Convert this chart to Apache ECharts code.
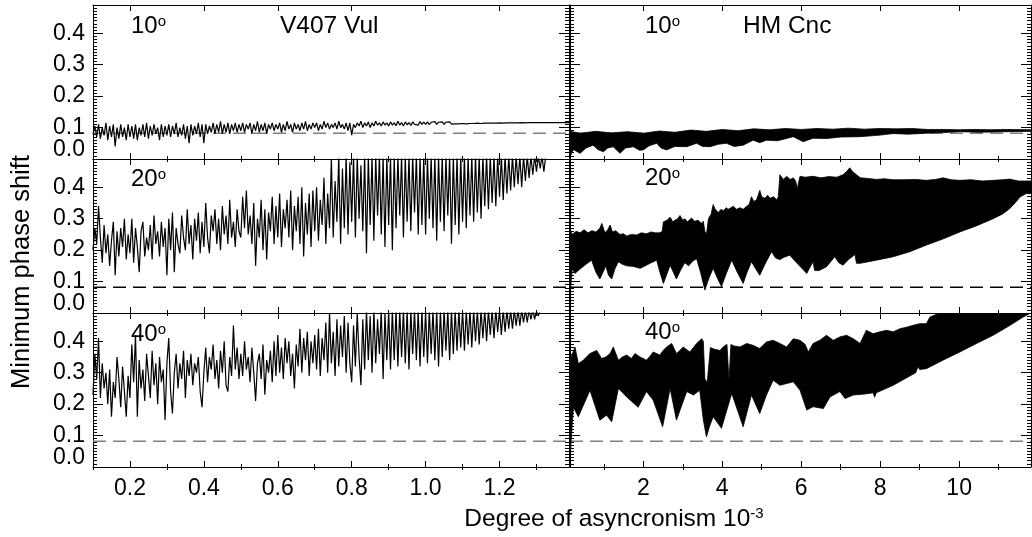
<!DOCTYPE html>
<html><head><meta charset="utf-8">
<script src="https://cdn.jsdelivr.net/npm/echarts@6/dist/echarts.min.js"></script>
<style>html,body{margin:0;padding:0;background:#fff}#c{width:1032px;height:537px}</style>
</head><body><div id="c"></div>
<script>
// ---------------- DATA ----------------
const vulX = [
 0.1,0.105,0.11,0.115,0.12,0.125,0.13,0.135,0.14,0.145,0.15,0.155,0.16,0.165,0.17,0.175,0.18,0.185,0.19,0.195,
 0.2,0.205,0.21,0.215,0.22,0.225,0.23,0.235,0.24,0.245,0.25,0.255,0.26,0.265,0.27,0.275,0.28,0.285,0.29,0.295,
 0.3,0.305,0.31,0.315,0.32,0.325,0.33,0.335,0.34,0.345,0.35,0.355,0.36,0.365,0.37,0.375,0.38,0.385,0.39,0.395,
 0.4,0.405,0.41,0.415,0.42,0.425,0.43,0.435,0.44,0.445,0.45,0.455,0.46,0.465,0.47,0.475,0.48,0.485,0.49,0.495,
 0.5,0.505,0.51,0.515,0.52,0.525,0.53,0.535,0.54,0.545,0.55,0.555,0.56,0.565,0.57,0.575,0.58,0.585,0.59,0.595,
 0.6,0.605,0.61,0.615,0.62,0.625,0.63,0.635,0.64,0.645,0.65,0.655,0.66,0.665,0.67,0.675,0.68,0.685,0.69,0.695,
 0.7,0.705,0.71,0.715,0.72,0.725,0.73,0.735,0.74,0.745,0.75,0.755,0.76,0.765,0.77,0.775,0.78,0.785,0.79,0.795,
 0.8,0.805,0.81,0.815,0.82,0.825,0.83,0.835,0.84,0.845,0.85,0.855,0.86,0.865,0.87,0.875,0.88,0.885,0.89,0.895,
 0.9,0.905,0.91,0.915,0.92,0.925,0.93,0.935,0.94,0.945,0.95,0.955,0.96,0.965,0.97,0.975,0.98,0.985,0.99,0.995,
 1.0,1.005,1.01,1.015,1.02,1.025,1.03,1.035,1.04,1.045,1.05,1.055,1.06,1.065,1.07,1.075,1.08,1.085,1.09,1.095,
 1.1,1.105,1.11,1.115,1.12,1.125,1.13,1.135,1.14,1.145,1.15,1.155,1.16,1.165,1.17,1.175,1.18,1.185,1.19,1.195,
 1.2,1.205,1.21,1.215,1.22,1.225,1.23,1.235,1.24,1.245,1.25,1.255,1.26,1.265,1.27,1.275,1.28,1.285,1.29,1.295,
 1.3,1.305,1.31,1.315,1.32,1.325,1.33,1.335,1.34,1.345,1.35,1.355,1.36,1.365,1.37,1.375,1.38,1.385,1.39];

const vul10 = [
 0.08,0.105,0.07,0.11,0.065,0.10,0.075,0.115,0.06,0.105,0.07,0.11,0.04,0.10,0.065,0.11,0.07,0.10,0.06,0.11,
 0.07,0.105,0.065,0.11,0.06,0.10,0.075,0.11,0.07,0.115,0.065,0.105,0.075,0.11,0.08,0.10,0.06,0.11,0.07,0.105,
 0.075,0.11,0.07,0.105,0.08,0.115,0.07,0.10,0.075,0.11,0.065,0.105,0.05,0.11,0.075,0.105,0.08,0.115,0.07,0.11,
 0.05,0.11,0.08,0.105,0.085,0.115,0.08,0.11,0.085,0.12,0.08,0.11,0.085,0.115,0.08,0.11,0.09,0.115,0.085,0.11,
 0.09,0.115,0.085,0.11,0.095,0.115,0.08,0.11,0.09,0.12,0.085,0.11,0.09,0.115,0.08,0.11,0.095,0.115,0.09,0.11,
 0.095,0.115,0.085,0.11,0.09,0.12,0.095,0.11,0.085,0.115,0.095,0.11,0.09,0.115,0.095,0.12,0.09,0.11,0.095,0.115,
 0.10,0.115,0.09,0.11,0.095,0.12,0.10,0.115,0.095,0.11,0.10,0.115,0.095,0.12,0.10,0.11,0.095,0.115,0.09,0.115,
 0.076,0.11,0.10,0.115,0.105,0.12,0.10,0.115,0.105,0.118,0.10,0.115,0.105,0.12,0.108,0.115,0.105,0.118,0.108,0.115,
 0.105,0.118,0.108,0.115,0.106,0.12,0.108,0.116,0.105,0.118,0.109,0.116,0.107,0.118,0.11,0.116,0.108,0.119,0.11,0.117,
 0.11,0.118,0.109,0.117,0.111,0.119,0.11,0.117,0.112,0.118,0.11,0.117,0.112,0.118,0.111,0.117,0.112,0.118,0.112,0.117,
 0.113,0.118,0.112,0.117,0.113,0.118,0.113,0.117,0.114,0.118,0.113,0.117,0.114,0.118,0.114,0.117,0.114,0.118,0.114,0.117,
 0.115,0.117,0.114,0.118,0.115,0.117,0.115,0.118,0.115,0.117,0.115,0.117,0.116,0.118,0.115,0.117,0.116,0.117,0.116,0.117,
 0.116,0.117,0.116,0.118,0.116,0.117,0.116,0.117,0.116,0.118,0.116,0.117,0.116,0.117,0.116,0.117,0.116,0.117,0.116];

const vul20 = [
 0.20,0.27,0.22,0.34,0.24,0.16,0.28,0.19,0.25,0.15,0.23,0.29,0.12,0.26,0.18,0.27,0.21,0.30,0.17,0.25,
 0.19,0.30,0.16,0.27,0.21,0.13,0.26,0.29,0.18,0.24,0.20,0.28,0.17,0.31,0.22,0.26,0.18,0.29,0.21,0.27,
 0.12,0.30,0.20,0.32,0.13,0.27,0.22,0.19,0.31,0.24,0.20,0.33,0.22,0.28,0.17,0.30,0.23,0.32,0.19,0.29,
 0.21,0.35,0.24,0.19,0.31,0.26,0.33,0.22,0.30,0.20,0.34,0.25,0.31,0.22,0.36,0.24,0.29,0.21,0.33,0.26,
 0.24,0.37,0.27,0.39,0.25,0.31,0.22,0.35,0.15,0.30,0.24,0.36,0.20,0.33,0.17,0.32,0.26,0.37,0.22,0.34,
 0.24,0.38,0.21,0.33,0.27,0.36,0.24,0.39,0.20,0.34,0.26,0.37,0.22,0.40,0.18,0.35,0.25,0.38,0.21,0.39,
 0.26,0.40,0.23,0.36,0.28,0.43,0.22,0.38,0.27,0.49,0.24,0.42,0.29,0.50,0.22,0.46,0.27,0.50,0.25,0.48,
 0.29,0.50,0.24,0.50,0.30,0.47,0.26,0.50,0.19,0.50,0.28,0.50,0.23,0.50,0.31,0.50,0.25,0.50,0.21,0.50,
 0.28,0.50,0.20,0.50,0.27,0.50,0.31,0.50,0.24,0.50,0.29,0.50,0.26,0.50,0.32,0.50,0.25,0.50,0.28,0.50,
 0.25,0.50,0.30,0.50,0.27,0.50,0.23,0.50,0.29,0.50,0.26,0.50,0.31,0.50,0.22,0.50,0.28,0.50,0.25,0.50,
 0.29,0.50,0.27,0.50,0.31,0.50,0.29,0.50,0.32,0.50,0.30,0.50,0.34,0.50,0.33,0.50,0.35,0.50,0.34,0.50,
 0.37,0.50,0.36,0.50,0.38,0.50,0.39,0.50,0.40,0.50,0.41,0.50,0.40,0.50,0.42,0.50,0.43,0.50,0.44,0.50,
 0.45,0.50,0.46,0.50,0.45,0.50,0.50,0.50,0.50,0.50,0.50,0.50,0.50,0.50,0.50,0.50,0.50,0.50,0.50];

const vul40 = [
 0.23,0.36,0.28,0.41,0.22,0.33,0.25,0.30,0.20,0.31,0.16,0.27,0.22,0.35,0.28,0.19,0.32,0.24,0.16,0.29,
 0.22,0.39,0.27,0.42,0.16,0.34,0.25,0.31,0.21,0.36,0.29,0.22,0.37,0.26,0.33,0.20,0.35,0.27,0.31,0.15,
 0.33,0.41,0.24,0.17,0.30,0.36,0.25,0.33,0.28,0.37,0.22,0.34,0.29,0.36,0.26,0.33,0.30,0.35,0.24,0.19,
 0.30,0.38,0.27,0.35,0.31,0.39,0.28,0.34,0.25,0.37,0.30,0.40,0.26,0.24,0.35,0.29,0.45,0.31,0.38,0.28,
 0.36,0.29,0.40,0.31,0.35,0.27,0.38,0.30,0.21,0.33,0.36,0.28,0.39,0.23,0.34,0.30,0.37,0.27,0.40,0.29,
 0.42,0.30,0.38,0.28,0.41,0.33,0.40,0.29,0.36,0.25,0.39,0.32,0.44,0.30,0.41,0.34,0.43,0.29,0.40,0.33,
 0.42,0.31,0.44,0.29,0.41,0.34,0.46,0.30,0.49,0.33,0.43,0.29,0.47,0.32,0.45,0.35,0.48,0.30,0.46,0.33,
 0.27,0.45,0.32,0.49,0.35,0.26,0.47,0.31,0.50,0.34,0.48,0.30,0.50,0.33,0.47,0.36,0.50,0.28,0.49,0.34,
 0.50,0.31,0.50,0.34,0.50,0.32,0.50,0.35,0.50,0.33,0.50,0.31,0.50,0.36,0.50,0.34,0.50,0.32,0.50,0.35,
 0.50,0.33,0.50,0.36,0.50,0.34,0.50,0.32,0.50,0.35,0.50,0.37,0.50,0.34,0.50,0.36,0.50,0.37,0.50,0.38,
 0.50,0.37,0.50,0.39,0.50,0.38,0.50,0.40,0.50,0.39,0.50,0.41,0.50,0.40,0.50,0.42,0.50,0.41,0.50,0.43,
 0.50,0.42,0.50,0.43,0.50,0.44,0.50,0.44,0.50,0.45,0.50,0.45,0.50,0.46,0.50,0.46,0.50,0.47,0.50,0.47,
 0.50,0.48,0.50,0.50,0.50,0.50,0.50,0.50,0.50,0.50,0.50,0.50,0.50,0.50,0.50,0.50,0.50,0.50,0.50];

// HM Cnc: upper and lower envelopes of the filled region, [x, y]
const cnc10Hi = [[0.144,0.088],[0.4,0.082],[0.8,0.088],[1.2,0.083],[1.6,0.087],[2.0,0.082],[2.4,0.089],[2.8,0.085],[3.2,0.092],[3.6,0.088],[4.0,0.094],[4.4,0.09],[4.8,0.096],[5.2,0.093],[5.6,0.097],[6.0,0.094],[6.4,0.097],[6.8,0.095],[7.2,0.098],[7.6,0.095],[8.0,0.097],[8.4,0.096],[8.8,0.097],[9.2,0.094],[9.6,0.094],[10.0,0.093],[10.4,0.094],[10.8,0.093],[11.2,0.094],[11.82,0.093]];
const cnc10Lo = [[0.144,0.007],[0.23,0.03],[0.40,0.018],[0.55,0.035],[0.73,0.044],[0.85,0.03],[0.99,0.023],[1.1,0.035],[1.24,0.039],[1.41,0.018],[1.55,0.035],[1.75,0.039],[1.9,0.028],[2.0,0.029],[2.15,0.042],[2.34,0.05],[2.45,0.035],[2.59,0.029],[2.8,0.04],[3.10,0.039],[3.35,0.05],[3.5,0.04],[3.69,0.039],[3.9,0.047],[4.11,0.05],[4.3,0.04],[4.53,0.044],[4.78,0.06],[4.95,0.052],[5.12,0.06],[5.4,0.058],[5.80,0.071],[6.05,0.055],[6.3,0.066],[6.64,0.065],[7.0,0.07],[7.49,0.071],[8.0,0.076],[8.33,0.081],[8.7,0.079],[9.17,0.082],[9.6,0.084],[10.02,0.087],[10.5,0.085],[10.86,0.086],[11.3,0.087],[11.82,0.088]];

const cnc20Hi = [[0.144,0.27],[0.2,0.25],[0.3,0.26],[0.4,0.255],[0.5,0.265],[0.6,0.255],[0.7,0.262],[0.8,0.258],[0.9,0.27],[0.95,0.285],[1.03,0.255],[1.1,0.265],[1.16,0.28],[1.22,0.258],[1.3,0.262],[1.41,0.25],[1.5,0.252],[1.58,0.245],[1.7,0.25],[1.83,0.248],[1.95,0.255],[2.08,0.252],[2.2,0.258],[2.3,0.255],[2.42,0.255],[2.48,0.26],[2.51,0.29],[2.6,0.295],[2.68,0.305],[2.75,0.29],[2.8,0.295],[2.87,0.3],[2.93,0.31],[3.0,0.295],[3.05,0.3],[3.12,0.29],[3.22,0.302],[3.3,0.292],[3.39,0.295],[3.47,0.285],[3.52,0.292],[3.56,0.26],[3.6,0.25],[3.65,0.3],[3.72,0.315],[3.77,0.345],[3.82,0.33],[3.9,0.32],[3.97,0.33],[4.03,0.325],[4.1,0.335],[4.15,0.33],[4.22,0.335],[4.28,0.34],[4.36,0.33],[4.45,0.335],[4.53,0.33],[4.62,0.34],[4.68,0.345],[4.74,0.37],[4.8,0.355],[4.87,0.36],[4.95,0.39],[5.0,0.37],[5.08,0.365],[5.15,0.375],[5.21,0.365],[5.3,0.37],[5.38,0.36],[5.42,0.37],[5.46,0.44],[5.55,0.425],[5.63,0.435],[5.72,0.425],[5.8,0.43],[5.86,0.42],[5.9,0.395],[5.94,0.42],[5.97,0.435],[6.1,0.432],[6.3,0.435],[6.5,0.43],[6.7,0.434],[6.9,0.432],[7.06,0.44],[7.15,0.45],[7.23,0.462],[7.3,0.45],[7.4,0.44],[7.5,0.43],[7.7,0.428],[7.9,0.425],[8.1,0.427],[8.33,0.424],[8.6,0.424],[8.9,0.425],[9.17,0.422],[9.4,0.425],[9.59,0.43],[9.8,0.424],[10.02,0.422],[10.3,0.424],[10.6,0.42],[10.86,0.422],[11.1,0.424],[11.28,0.426],[11.5,0.42],[11.82,0.42]];
const cnc20Lo = [[0.144,0.04],[0.16,0.08],[0.2,0.14],[0.27,0.126],[0.4,0.14],[0.55,0.155],[0.69,0.168],[0.8,0.13],[0.9,0.108],[1.0,0.135],[1.05,0.15],[1.12,0.12],[1.2,0.108],[1.28,0.14],[1.37,0.163],[1.47,0.155],[1.58,0.15],[1.75,0.148],[1.92,0.142],[2.05,0.15],[2.2,0.16],[2.34,0.168],[2.42,0.13],[2.51,0.094],[2.6,0.125],[2.68,0.152],[2.76,0.13],[2.84,0.108],[2.94,0.135],[3.05,0.16],[3.15,0.15],[3.25,0.165],[3.35,0.173],[3.45,0.13],[3.56,0.073],[3.66,0.11],[3.77,0.142],[3.88,0.11],[3.98,0.084],[4.1,0.125],[4.24,0.168],[4.38,0.13],[4.53,0.094],[4.63,0.13],[4.74,0.163],[4.85,0.14],[4.95,0.12],[5.1,0.16],[5.25,0.195],[5.35,0.175],[5.46,0.17],[5.58,0.178],[5.71,0.184],[5.92,0.155],[6.14,0.126],[6.22,0.145],[6.3,0.163],[6.34,0.135],[6.45,0.135],[6.64,0.147],[6.85,0.179],[6.95,0.16],[7.06,0.152],[7.2,0.17],[7.36,0.186],[7.4,0.158],[7.49,0.158],[7.9,0.168],[8.33,0.179],[8.75,0.195],[9.17,0.216],[9.6,0.236],[10.02,0.258],[10.45,0.278],[10.86,0.3],[11.1,0.315],[11.28,0.332],[11.45,0.355],[11.54,0.369],[11.7,0.38],[11.82,0.38]];

const cnc40Hi = [[0.144,0.34],[0.27,0.382],[0.355,0.329],[0.48,0.34],[0.65,0.361],[0.82,0.371],[0.945,0.345],[1.05,0.35],[1.16,0.361],[1.24,0.382],[1.37,0.34],[1.47,0.35],[1.58,0.356],[1.7,0.345],[1.79,0.361],[1.92,0.35],[2.08,0.34],[2.17,0.352],[2.25,0.366],[2.42,0.356],[2.5,0.37],[2.59,0.382],[2.72,0.393],[2.84,0.361],[2.92,0.37],[3.01,0.382],[3.18,0.366],[3.27,0.38],[3.35,0.393],[3.48,0.408],[3.52,0.40],[3.56,0.28],[3.62,0.27],[3.7,0.38],[3.8,0.375],[3.94,0.371],[4.05,0.385],[4.12,0.39],[4.17,0.275],[4.22,0.39],[4.3,0.385],[4.45,0.382],[4.62,0.393],[4.78,0.387],[4.95,0.377],[5.12,0.398],[5.29,0.403],[5.46,0.393],[5.63,0.382],[5.80,0.408],[5.97,0.403],[6.1,0.39],[6.18,0.366],[6.3,0.393],[6.47,0.403],[6.64,0.419],[6.81,0.403],[6.98,0.414],[7.15,0.419],[7.32,0.408],[7.49,0.393],[7.65,0.435],[7.82,0.424],[7.99,0.43],[8.16,0.435],[8.33,0.43],[8.50,0.44],[8.67,0.445],[8.84,0.451],[9.0,0.456],[9.17,0.456],[9.26,0.477],[9.43,0.486],[9.6,0.49],[11.82,0.49]];
const cnc40Lo = [[0.144,0.02],[0.19,0.12],[0.23,0.19],[0.355,0.16],[0.65,0.244],[0.90,0.149],[1.07,0.165],[1.2,0.144],[1.37,0.25],[1.58,0.223],[1.87,0.19],[2.08,0.24],[2.25,0.213],[2.49,0.128],[2.68,0.25],[2.84,0.149],[3.10,0.24],[3.27,0.229],[3.43,0.244],[3.52,0.15],[3.60,0.096],[3.68,0.13],[3.77,0.16],[3.98,0.123],[4.24,0.234],[4.53,0.128],[4.74,0.229],[4.95,0.17],[5.12,0.229],[5.29,0.276],[5.46,0.26],[5.80,0.271],[5.97,0.244],[6.14,0.181],[6.30,0.192],[6.56,0.186],[6.73,0.223],[6.98,0.24],[7.11,0.218],[7.32,0.229],[7.6,0.232],[7.82,0.236],[7.86,0.222],[7.9,0.236],[8.33,0.26],[8.9,0.3],[8.96,0.32],[9.0,0.31],[9.17,0.313],[9.59,0.34],[10.02,0.366],[10.44,0.393],[10.86,0.419],[11.28,0.45],[11.62,0.477],[11.82,0.49]];

const dashLevel = 0.082;
const leftRange = [0.1, 1.388];
const rightRange = [0.144, 11.82];
const yMax = 0.49;
const yZeroLabel = [0];
const leftMajor = [0.2, 0.4, 0.6, 0.8, 1.0, 1.2];
const leftLabels = ['0.2', '0.4', '0.6', '0.8', '1.0', '1.2'];
const leftMinor = [0.1, 0.3, 0.5, 0.7, 0.9, 1.1, 1.3];
const rightMajor = [2, 4, 6, 8, 10];
const rightLabels = ['2', '4', '6', '8', '10'];
const rightMinor = [1, 3, 5, 7, 9, 11];
const angleLabels = ['10', '20', '40'];
const starNames = ['V407 Vul', 'HM Cnc'];

// ---------------- LAYOUT ----------------
const FONT = "'Liberation Sans', Arial, Helvetica, sans-serif";
const rowTops = [5, 159, 313];
const rowH = 154;
const colLeft = [93, 570];
const colW = [476, 461];

const panels = [
  {r: 0, c: 0, y: vul10, dash: '#808080'},
  {r: 0, c: 1, hi: cnc10Hi, lo: cnc10Lo, dash: '#808080'},
  {r: 1, c: 0, y: vul20, dash: '#000'},
  {r: 1, c: 1, hi: cnc20Hi, lo: cnc20Lo, dash: '#000'},
  {r: 2, c: 0, y: vul40, dash: '#808080'},
  {r: 2, c: 1, hi: cnc40Hi, lo: cnc40Lo, dash: '#808080'}
];

const grids = [], xAxes = [], yAxes = [], series = [];
const blk = {color: '#000', width: 1};

panels.forEach((p, g) => {
  grids.push({left: colLeft[p.c], top: rowTops[p.r], width: colW[p.c], height: rowH, outerBoundsMode: 'none', containLabel: false});
  const range = p.c === 0 ? leftRange : rightRange;
  const major = p.c === 0 ? leftMajor : rightMajor;
  const minor = p.c === 0 ? leftMinor : rightMinor;
  const labels = p.c === 0 ? leftLabels : rightLabels;
  const base = {gridIndex: g, type: 'value', min: range[0], max: range[1], splitLine: {show: false}};
  ['bottom', 'top'].forEach(pos => {
    xAxes.push(Object.assign({}, base, {
      position: pos,
      axisLine: {show: true, onZero: false, lineStyle: blk},
      axisTick: {show: true, inside: true, length: 6, customValues: major, lineStyle: blk},
      axisLabel: {show: pos === 'bottom' && p.r === 2, customValues: major, margin: 10,
        color: '#000', fontFamily: FONT, fontSize: 23, hideOverlap: false,
        formatter: v => { const i = major.findIndex(m => Math.abs(m - v) < 1e-6); return i >= 0 ? labels[i] : ''; }}
    }));
    xAxes.push(Object.assign({}, base, {
      position: pos,
      axisLine: {show: false},
      axisTick: {show: true, inside: true, length: 3, customValues: minor, lineStyle: blk},
      axisLabel: {show: false}
    }));
  });
  const yBase = {gridIndex: g, type: 'value', min: 0, max: yMax, splitLine: {show: false}};
  ['left', 'right'].forEach(pos => {
    yAxes.push(Object.assign({}, yBase, {
      interval: 0.1, position: pos,
      axisLine: {show: true, onZero: false, lineStyle: blk},
      axisTick: {show: true, inside: true, length: 10, lineStyle: blk},
      minorTick: {show: true, splitNumber: 10, length: 4, lineStyle: blk},
      axisLabel: {show: pos === 'left' && p.c === 0, showMaxLabel: false, showMinLabel: false, margin: 8,
        color: '#000', fontFamily: FONT, fontSize: 23,
        formatter: v => v.toFixed(1)}
    }));
  });
  // separate axis carrying only the raised "0.0" label
  yAxes.push(Object.assign({}, yBase, {
    position: 'left',
    axisLine: {show: false}, axisTick: {show: false}, minorTick: {show: false},
    axisLabel: {show: p.c === 0, customValues: yZeroLabel, margin: 8,
      color: '#000', fontFamily: FONT, fontSize: 23,
      formatter: v => '{z|' + v.toFixed(1) + '}',
      rich: {z: {padding: [0, 0, 18, 0], fontSize: 23, fontFamily: FONT, color: '#000'}}}
  }));
  const xi = 4 * g, yi = 3 * g;
  series.push({
    type: 'line', xAxisIndex: xi, yAxisIndex: yi, symbol: 'none', silent: true, z: 1,
    data: [[range[0], dashLevel], [range[1], dashLevel]],
    lineStyle: {color: p.dash, width: 1.3, type: [13, 7]}
  });
  if (p.y) {
    series.push({
      type: 'line', xAxisIndex: xi, yAxisIndex: yi, symbol: 'none', silent: true, z: 3, clip: true,
      data: vulX.map((x, i) => [x, p.y[i]]),
      lineStyle: {color: '#000', width: 1.2}
    });
  } else {
    const hi = p.hi, lo = p.lo;
    series.push({
      type: 'custom', xAxisIndex: xi, yAxisIndex: yi, silent: true, z: 3, clip: true,
      data: [[range[0], 0]],
      renderItem: (params, api) => {
        const pts = [];
        for (let i = 0; i < hi.length; i++) pts.push(api.coord(hi[i]));
        for (let i = lo.length - 1; i >= 0; i--) pts.push(api.coord(lo[i]));
        return {type: 'polygon', shape: {points: pts}, style: {fill: '#000', stroke: '#000', lineWidth: 0.8}};
      }
    });
  }
});

const degRich = {
  n: {fontSize: 24, fontFamily: FONT, fill: '#000'},
  s: {fontSize: 15, fontFamily: FONT, fill: '#000', verticalAlign: 'top'}
};
const graphics = [];
const angleY = [[26, 26], [179, 178], [334, 332]];
angleLabels.forEach((a, r) => {
  [0, 1].forEach(c => {
    graphics.push({type: 'text', x: c ? 645 : 131, y: angleY[r][c], z: 10,
      style: {text: '{n|' + a + '}{s|o}', rich: degRich, verticalAlign: 'middle', align: 'left'}});
  });
});
graphics.push({type: 'text', x: 280, y: 26, z: 10, style: {text: starNames[0], font: '24.5px ' + FONT, fill: '#000', verticalAlign: 'middle', align: 'left'}});
graphics.push({type: 'text', x: 743, y: 26, z: 10, style: {text: starNames[1], font: '24.5px ' + FONT, fill: '#000', verticalAlign: 'middle', align: 'left'}});
graphics.push({type: 'text', x: 614, y: 519, z: 10,
  style: {text: 'Degree of asyncronism 10{s|-3}', font: '24.5px ' + FONT, fill: '#000', align: 'center', verticalAlign: 'middle',
    rich: {s: {fontSize: 15, fontFamily: FONT, fill: '#000', verticalAlign: 'top'}}}});
graphics.push({type: 'text', x: 22, y: 272, rotation: Math.PI / 2, z: 10,
  style: {text: 'Minimum phase shift', font: '25.5px ' + FONT, fill: '#000', align: 'center', verticalAlign: 'middle'}});

const chart = echarts.init(document.getElementById('c'), null, {renderer: 'canvas'});
chart.setOption({
  backgroundColor: '#fff',
  animation: false,
  grid: grids, xAxis: xAxes, yAxis: yAxes, series: series, graphic: graphics
});
</script></body></html>
